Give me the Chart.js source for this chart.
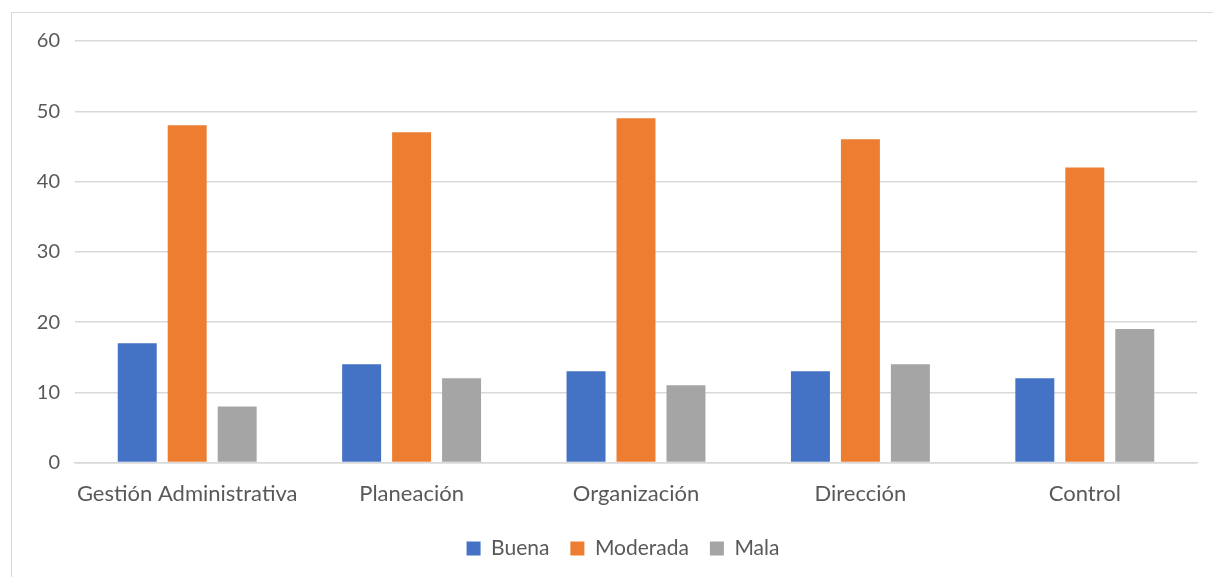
<!DOCTYPE html>
<html>
<head>
<meta charset="utf-8">
<script src="https://cdn.jsdelivr.net/npm/chart.js@4"></script>
<style>
	html, body { margin: 0; padding: 0; background: #fff; overflow: hidden; }
	#marco { position: absolute; left: 11px; top: 12px; width: 1300px; height: 700px; border: 1px solid #d9d9d9; }
	#graficoGestion { position: absolute; left: 0; top: 0; }
</style>
</head>
<body>
<div id="marco"></div>
<canvas id="graficoGestion" width="1213" height="577"></canvas>
<script>
var categorias = ['Gestión Administrativa', 'Planeación', 'Organización', 'Dirección', 'Control'];
var buena = [17, 14, 13, 13, 12];
var moderada = [48, 47, 49, 46, 42];
var mala = [8, 12, 11, 14, 19];
var ticksY = [0, 10, 20, 30, 40, 50, 60];

var fuente = "Lato, 'Open Sans', sans-serif";
var gris = '#595959';

// la leyenda queda centrada sobre el area del grafico, no sobre todo el lienzo
var centrarLeyenda = {
	id: 'centrarLeyenda',
	afterLayout: function(chart){
		var l = chart.legend;
		var desp = (chart.chartArea.left + chart.chartArea.right) / 2 - (l.left + l.right) / 2 - 13;
		l.left += desp;
		l.right += desp;
	}
};

var ctx = document.getElementById('graficoGestion').getContext('2d');
var grafico = new Chart(ctx, {
	type: 'bar',
	data: {
		labels: categorias,
		datasets: [
			{ label: 'Buena', backgroundColor: '#4472c4', data: buena },
			{ label: 'Moderada', backgroundColor: '#ed7d31', data: moderada },
			{ label: 'Mala', backgroundColor: '#a5a5a5', data: mala }
		]
	},
	options: {
		responsive: false,
		animation: false,
		devicePixelRatio: 1,
		layout: { padding: { left: 12, right: 16, top: 41, bottom: 8 } },
		datasets: { bar: { categoryPercentage: 0.668, barPercentage: 0.78 } },
		plugins: {
			tooltip: { enabled: false },
			legend: {
				position: 'bottom',
				labels: {
					boxWidth: 14, boxHeight: 14, padding: 21,
					color: gris,
					font: { family: fuente, size: 21 }
				}
			}
		},
		scales: {
			x: {
				grid: { display: false },
				border: { color: '#d9d9d9', width: 1.5 },
				ticks: { color: gris, font: { family: fuente, size: 22 }, padding: 10, maxRotation: 0 }
			},
			y: {
				min: 0, max: 60,
				afterBuildTicks: function(eje){ eje.ticks = ticksY.map(function(v){ return { value: v }; }); },
				afterFit: function(eje){ eje.width = 63; },
				grid: { color: '#d9d9d9', lineWidth: 1.5, drawTicks: false },
				border: { display: false },
				ticks: { color: gris, font: { family: fuente, size: 20 }, padding: 15 }
			}
		}
	},
	plugins: [centrarLeyenda]
});
</script>
</body>
</html>
